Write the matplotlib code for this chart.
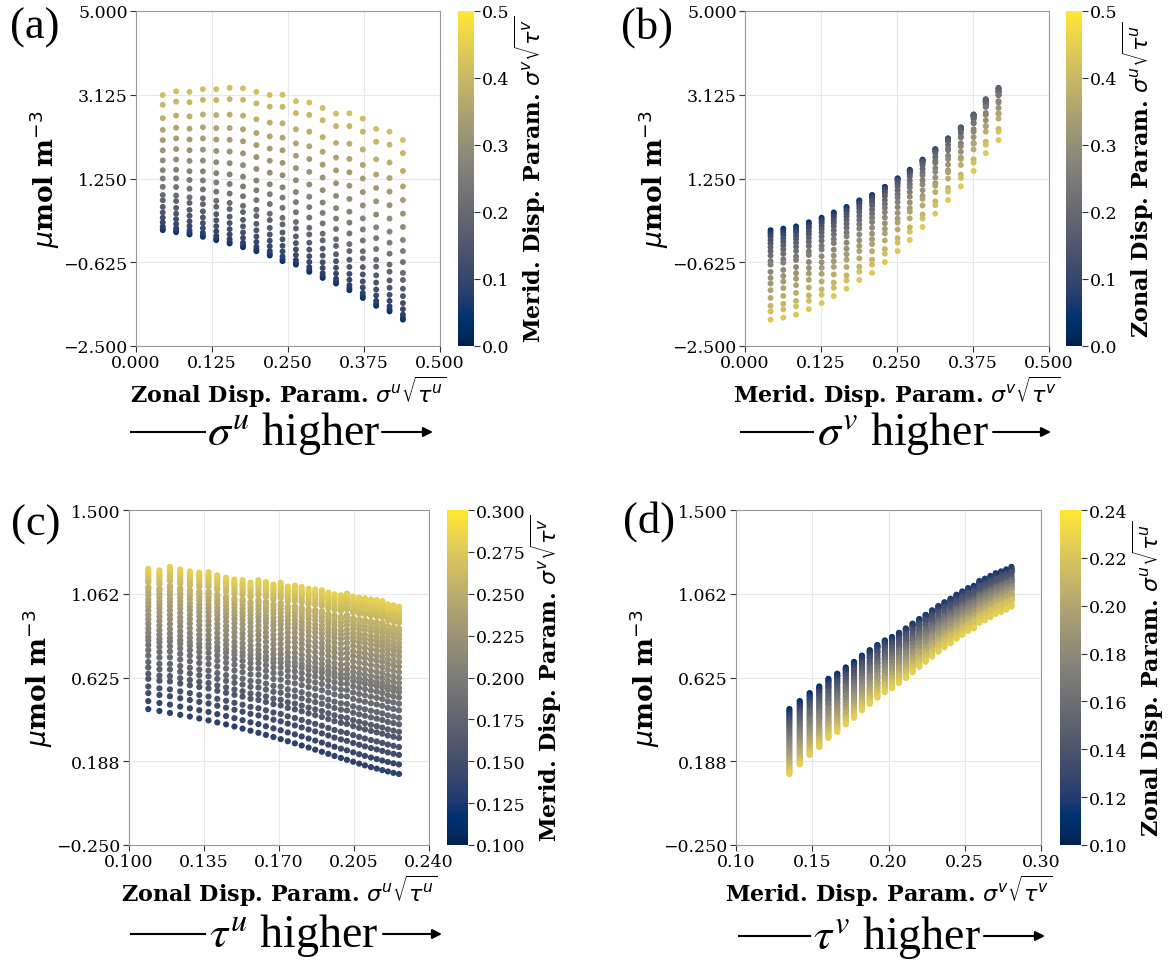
import numpy as np
import matplotlib
matplotlib.use('Agg')
import matplotlib.pyplot as plt
from matplotlib.lines import Line2D
from matplotlib.patches import FancyArrowPatch
from matplotlib.ticker import FuncFormatter

plt.rcParams['font.family'] = 'DejaVu Serif'
plt.rcParams['axes.unicode_minus'] = True

W, H = 1169, 962

# --- sigma runs: 19 zonal x 19 meridional values of sigma*sqrt(tau) ---
zonal_sig = [0.044, 0.066, 0.088, 0.110, 0.132, 0.154, 0.176, 0.198, 0.220, 0.241,
             0.263, 0.285, 0.307, 0.329, 0.351, 0.373, 0.395, 0.417, 0.439]
merid_sig = [0.042, 0.063, 0.084, 0.105, 0.126, 0.146, 0.167, 0.188, 0.209, 0.230,
             0.251, 0.271, 0.292, 0.313, 0.334, 0.355, 0.376, 0.396, 0.417]
# highest / lowest concentration for every zonal column
sig_zonal_top = [3.12, 3.20, 3.19, 3.25, 3.25, 3.28, 3.27, 3.19, 3.12, 3.125,
                 2.98, 2.95, 2.83, 2.70, 2.71, 2.59, 2.36, 2.30, 2.11]
sig_zonal_bottom = [0.093, 0.048, -0.003, -0.055, -0.13, -0.205, -0.288, -0.378, -0.475, -0.60,
                    -0.677, -0.84, -0.976, -1.10, -1.25, -1.425, -1.60, -1.725, -1.91]
# highest / lowest concentration for every meridional column
sig_merid_top = [0.13, 0.183, 0.26, 0.33, 0.42, 0.535, 0.655, 0.80, 0.93, 1.12,
                 1.30, 1.486, 1.70, 1.94, 2.17, 2.47, 2.75, 3.05, 3.33]
sig_merid_bottom = [-1.93, -1.905, -1.867, -1.71, -1.55, -1.38, -1.20, -0.99, -0.834, -0.587,
                    -0.318, -0.055, 0.26, 0.558, 0.88, 1.113, 1.456, 1.88, 2.114]

# --- tau runs: 35 zonal x 33 meridional values ---
zonal_tau = [0.1090, 0.1142, 0.1191, 0.1239, 0.1284, 0.1328, 0.1371, 0.1412, 0.1453, 0.1492,
             0.1530, 0.1567, 0.1604, 0.1639, 0.1674, 0.1708, 0.1741, 0.1774, 0.1806, 0.1838,
             0.1869, 0.1900, 0.1930, 0.1959, 0.1989, 0.2017, 0.2046, 0.2074, 0.2101, 0.2129,
             0.2156, 0.2182, 0.2208, 0.2234, 0.2260]
merid_tau = [0.1350, 0.1418, 0.1483, 0.1546, 0.1606, 0.1664, 0.1720, 0.1774, 0.1826, 0.1877,
             0.1927, 0.1976, 0.2023, 0.2069, 0.2114, 0.2158, 0.2202, 0.2244, 0.2286, 0.2327,
             0.2367, 0.2407, 0.2446, 0.2484, 0.2522, 0.2559, 0.2596, 0.2632, 0.2668, 0.2703,
             0.2738, 0.2772, 0.2806]
tau_zonal_top = [1.193, 1.184, 1.203, 1.189, 1.179, 1.172, 1.175, 1.158, 1.146, 1.137,
                 1.133, 1.120, 1.133, 1.123, 1.110, 1.120, 1.100, 1.105, 1.097, 1.088,
                 1.085, 1.081, 1.068, 1.059, 1.054, 1.064, 1.047, 1.042, 1.038, 1.033,
                 1.029, 1.024, 1.007, 1.002, 0.995]
tau_zonal_bottom = [0.460, 0.450, 0.440, 0.430, 0.421, 0.411, 0.401, 0.390, 0.380, 0.369,
                    0.358, 0.347, 0.336, 0.325, 0.314, 0.303, 0.292, 0.281, 0.270, 0.259,
                    0.248, 0.237, 0.226, 0.215, 0.205, 0.195, 0.185, 0.175, 0.166, 0.157,
                    0.149, 0.141, 0.134, 0.127, 0.121]
tau_merid_top = [0.469, 0.511, 0.553, 0.588, 0.628, 0.655, 0.688, 0.717, 0.750, 0.779,
                 0.806, 0.830, 0.848, 0.870, 0.893, 0.918, 0.942, 0.964, 0.987, 1.009,
                 1.028, 1.046, 1.066, 1.083, 1.100, 1.111, 1.136, 1.147, 1.161, 1.175,
                 1.184, 1.194, 1.207]


def norm(v):
    v = np.asarray(v, dtype=float)
    return (v - v[0]) / (v[-1] - v[0])


def build_grid(col_bottom, col_top, profile):
    b = np.asarray(col_bottom, dtype=float)
    t = np.asarray(col_top, dtype=float)
    return b[:, None] + (t - b)[:, None] * profile[None, :]


prof_sig = 0.5 * (norm(sig_merid_top) + norm(sig_merid_bottom))
conc_sig = build_grid(sig_zonal_bottom, sig_zonal_top, prof_sig)   # [zonal, merid]
prof_tau = norm(tau_merid_top)
conc_tau = build_grid(tau_zonal_bottom, tau_zonal_top, prof_tau)

fig = plt.figure(figsize=(W / 100, H / 100), dpi=100)


def box(x0, x1, y0, y1):
    return [x0 / W, 1 - y1 / H, (x1 - x0) / W, (y1 - y0) / H]


def fmt(n):
    return FuncFormatter(lambda v, p: f'{v:.{n}f}'.replace('-', '\u2212'))


def panel(ax_px, cb_px, x, y, c, vlim, xt, xd, yt, yd, ct, cd, xlabel, clabel, s):
    ax = fig.add_axes(box(*ax_px))
    sc = ax.scatter(x.ravel(), y.ravel(), c=c.ravel(), cmap='cividis',
                    vmin=vlim[0], vmax=vlim[1], s=s, linewidths=0, zorder=3)
    ax.set_xlim(xt[0], xt[-1])
    ax.set_ylim(yt[0], yt[-1])
    ax.set_xticks(xt)
    ax.set_yticks(yt)
    ax.xaxis.set_major_formatter(fmt(xd))
    ax.yaxis.set_major_formatter(fmt(yd))
    ax.tick_params(labelsize=12.5, length=4, color='#333333', pad=2)
    ax.grid(True, color='#e8e8e8', linewidth=0.8, zorder=0)
    for sp in ax.spines.values():
        sp.set_color('#999999')
    ax.set_xlabel(xlabel, fontsize=16, fontweight='bold', labelpad=2)
    ax.set_ylabel(r'$\mu$mol m$^{-3}$', fontsize=19, fontweight='bold', labelpad=1)
    cax = fig.add_axes(box(*cb_px))
    cb = fig.colorbar(sc, cax=cax, ticks=ct)
    cb.outline.set_visible(False)
    cb.ax.yaxis.set_major_formatter(fmt(cd))
    cb.ax.tick_params(labelsize=12.5, length=4, color='#333333', pad=2)
    cb.set_label(clabel, fontsize=16, fontweight='bold', labelpad=2)
    return ax


zlab = r'Zonal Disp. Param. $\sigma^u\sqrt{\tau^u}$'
mlab = r'Merid. Disp. Param. $\sigma^v\sqrt{\tau^v}$'

zs = np.asarray(zonal_sig)[:, None] * np.ones((1, len(merid_sig)))
ms = np.ones((len(zonal_sig), 1)) * np.asarray(merid_sig)[None, :]
zt = np.asarray(zonal_tau)[:, None] * np.ones((1, len(merid_tau)))
mt = np.ones((len(zonal_tau), 1)) * np.asarray(merid_tau)[None, :]

yt_sig = np.linspace(-2.5, 5.0, 5)
yt_tau = np.linspace(-0.25, 1.5, 5)

# (a) sigma^u on x, coloured by meridional parameter
panel((136, 440, 12, 347), (458, 474, 12, 347), zs, conc_sig, ms, (0, 0.5),
      np.linspace(0, 0.5, 5), 3, yt_sig, 3, np.arange(0, 0.51, 0.1), 1,
      zlab, mlab, 18)
# (b) sigma^v on x, coloured by zonal parameter
panel((745, 1049, 12, 347), (1066, 1082, 12, 347), ms, conc_sig, zs, (0, 0.5),
      np.linspace(0, 0.5, 5), 3, yt_sig, 3, np.arange(0, 0.51, 0.1), 1,
      mlab, zlab, 18)
# (c) tau^u on x
panel((129, 429, 511, 846), (447, 468, 511, 846), zt, conc_tau, mt, (0.1, 0.3),
      np.linspace(0.1, 0.24, 5), 3, yt_tau, 3, np.linspace(0.1, 0.3, 9), 3,
      zlab, mlab, 20)
# (d) tau^v on x
panel((736, 1041, 511, 846), (1060, 1081, 511, 846), mt, conc_tau, zt, (0.1, 0.24),
      np.linspace(0.1, 0.3, 5), 2, yt_tau, 3, np.linspace(0.1, 0.24, 8), 2,
      mlab, zlab, 20)

# panel tags
for tag, px, py in [('(a)', 10, 39), ('(b)', 621, 39), ('(c)', 11, 536), ('(d)', 623, 533)]:
    fig.text(px / W, 1 - py / H, tag, fontsize=32, family='Liberation Serif',
             va='baseline', ha='left')

# "... higher" arrows under each panel
arrows = [
    (r'$\sigma^u$ higher', 131, 205, 294, 382, 433, 433),
    (r'$\sigma^v$ higher', 741, 813, 903, 993, 1051, 433),
    (r'$\tau^u$ higher', 131, 205, 294, 383, 442, 935),
    (r'$\tau^v$ higher', 739, 810, 897, 984, 1045, 937),
]
for txt, l0, l1, xc, a0, a1, yl in arrows:
    fig.text(xc / W, 1 - (yl + 12) / H, txt, fontsize=33, family='Liberation Serif',
             math_fontfamily='stix', ha='center', va='baseline')
    fig.add_artist(Line2D([l0 / W, l1 / W], [1 - yl / H, 1 - yl / H],
                          color='black', linewidth=1.5, transform=fig.transFigure))
    fig.add_artist(FancyArrowPatch((a0 / W, 1 - yl / H), (a1 / W, 1 - yl / H),
                                   transform=fig.transFigure, arrowstyle='-|>',
                                   mutation_scale=14, color='black', linewidth=1.5,
                                   shrinkA=0, shrinkB=0))

fig.savefig('out.png', dpi=100)
